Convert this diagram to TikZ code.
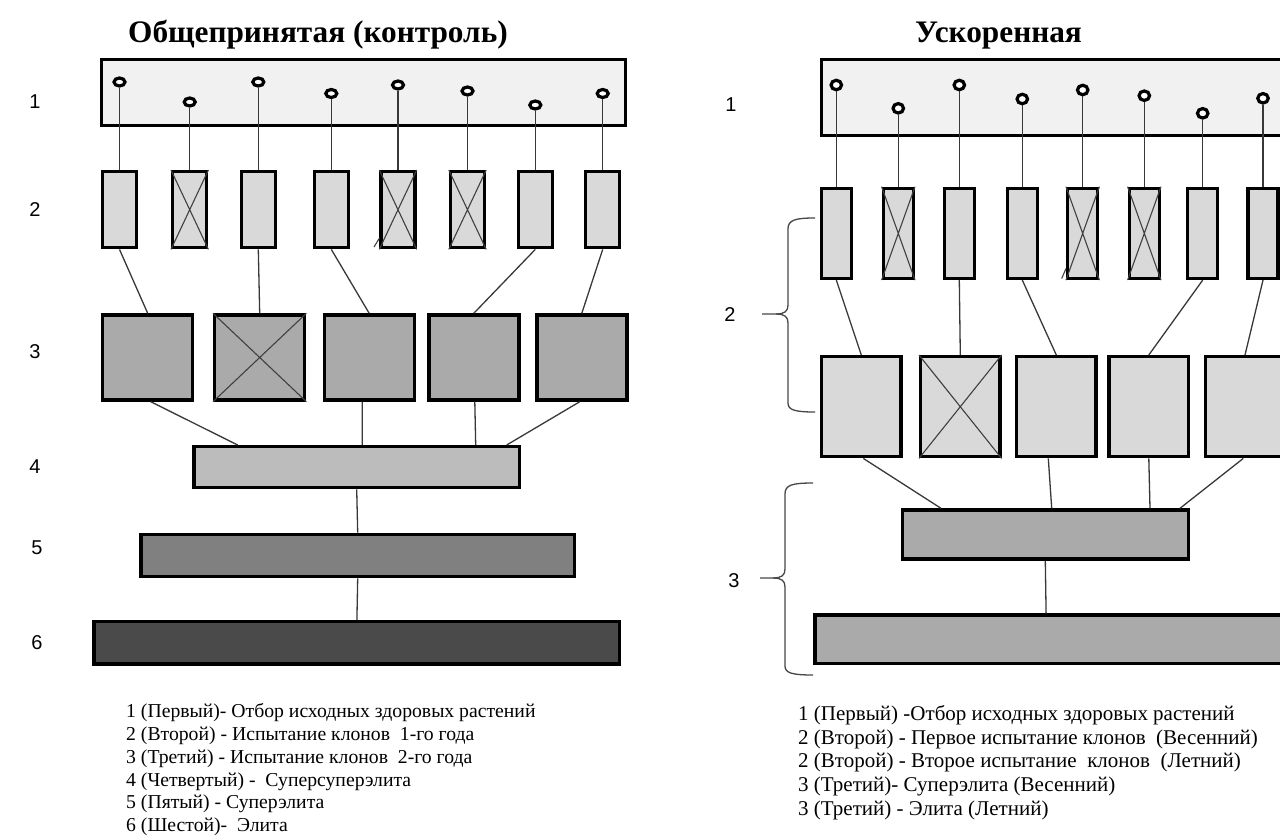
\documentclass[tikz,border=0pt]{standalone}
\usepackage{fontspec}
\setmainfont{Liberation Serif}
\newfontfamily\labelfont{Liberation Sans}
\usetikzlibrary{shapes.geometric}
\definecolor{topfill}{HTML}{F1F1F1}
\definecolor{lightfill}{HTML}{D9D9D9}
\definecolor{midfill}{HTML}{AAAAAA}
\definecolor{barfourL}{HTML}{BCBCBC}
\definecolor{barfiveL}{HTML}{808080}
\definecolor{barsixL}{HTML}{4A4A4A}
\begin{document}
\begin{tikzpicture}[x=1pt,y=-1pt,
  bx/.style={draw=black, line width=3.4pt, inner sep=0pt, rectangle},
  conn/.style={draw=black!78, line width=1.3pt},
  xline/.style={draw=black!75, line width=1.1pt},
  seed/.style={draw=black, line width=3.2pt, fill=white, ellipse, inner sep=0pt, minimum width=11pt, minimum height=8pt},
  seedR/.style={seed, minimum width=10.5pt, minimum height=9.5pt},
  brace/.style={draw=black!72, line width=1.3pt},
  lab/.style={font=\labelfont\fontsize{20}{24}\selectfont, anchor=center, inner sep=0pt},
  ttl/.style={font=\bfseries\fontsize{31.3}{36}\selectfont, anchor=base west, inner sep=0pt},
  legL/.style={font=\fontsize{19.7}{22}\selectfont, anchor=base west, inner sep=0pt},
  legR/.style={font=\fontsize{21}{23}\selectfont, anchor=base west, inner sep=0pt}
]
\useasboundingbox (0,0) rectangle (1280,836);
\clip (0,0) rectangle (1280,836);

% ---------- titles ----------
\node[ttl] (tL) at (128,42) {Общепринятая (контроль)};
\node[ttl] (tR) at (915,42) {Ускоренная};

% ---------- left panel ----------
\node[bx, fill=topfill, minimum width=524pt, minimum height=66pt] (Ltop) at (363.5,92.5) {};
\foreach \i/\x/\cy in {1/119.5/82, 2/189.7/102, 3/258.3/82, 4/331.3/93.5, 5/398/85, 6/467.5/91, 7/535.3/105, 8/602.7/93.5} {
  \node[bx, fill=lightfill, minimum width=34pt, minimum height=76pt] (Lb\i) at (\x,209.7) {};
  \node[seed] (Lc\i) at (\x,\cy) {};
  \draw[conn] (Lc\i.south) -- (Lb\i.north);
}
\foreach \n in {Lb2,Lb5,Lb6} {
  \draw[xline] (\n.north west) -- (\n.south east) (\n.north east) -- (\n.south west);
}
\coordinate (Lstray) at (374,247);
\draw[xline] (Lstray) -- (379.5,238);

\foreach \i/\x in {1/147.7, 2/259.7, 3/369.2, 4/473.8, 5/581.8} {
  \node[bx, fill=midfill, minimum width=90pt, minimum height=85pt] (Ls\i) at (\x,357.5) {};
}
\draw[xline] (Ls2.north west) -- (Ls2.south east) (Ls2.north east) -- (Ls2.south west);
\draw[conn] (Lb1.south) -- (Ls1.north);
\draw[conn] (Lb3.south) -- (Ls2.north);
\draw[conn] (Lb4.south) -- (Ls3.north);
\draw[conn] (Lb7.south) -- (Ls4.north);
\draw[conn] (Lb8.south) -- (Ls5.north);

\node[bx, fill=barfourL, minimum width=325.3pt, minimum height=41pt] (Lr4) at (356.7,467.2) {};
\node[bx, fill=barfiveL, minimum width=433.3pt, minimum height=42.2pt] (Lr5) at (357.7,555.5) {};
\node[bx, fill=barsixL, minimum width=525.7pt, minimum height=42.3pt] (Lr6) at (356.9,642.9) {};
\draw[conn] ([xshift=3pt]Ls1.south) -- ([xshift=-119pt]Lr4.north);
\draw[conn] ([xshift=-7pt]Ls3.south) -- ([xshift=5.6pt]Lr4.north);
\draw[conn] ([xshift=1pt]Ls4.south) -- ([xshift=119pt]Lr4.north);
\draw[conn] ([xshift=-2pt]Ls5.south) -- ([xshift=150pt]Lr4.north);
\draw[conn] (Lr4.south) -- (Lr5.north);
\draw[conn] (Lr5.south) -- (Lr6.north);

% left row labels
\node[lab] (l1) at (35,102) {1};
\node[lab] (l2) at (35,210) {2};
\node[lab] (l3) at (35,352) {3};
\node[lab] (l4) at (35,467) {4};
\node[lab] (l5) at (37,548) {5};
\node[lab] (l6) at (37,643) {6};

% ---------- right panel ----------
\node[bx, fill=topfill, minimum width=467pt, minimum height=76pt] (Rtop) at (1055,97.5) {};
\foreach \i/\x/\cy in {1/836.3/85, 2/898.3/108.3, 3/959.3/85, 4/1022.3/99, 5/1082.7/90, 6/1144.3/95.7, 7/1202.7/113.3, 8/1263/98.3} {
  \node[bx, fill=lightfill, minimum width=30pt, minimum height=90pt] (Rb\i) at (\x,233.4) {};
  \node[seedR] (Rc\i) at (\x,\cy) {};
  \draw[conn] (Rc\i.south) -- (Rb\i.north);
}
\foreach \n in {Rb2,Rb5,Rb6} {
  \draw[xline] (\n.north west) -- (\n.south east) (\n.north east) -- (\n.south west);
}
\coordinate (Rstray) at (1061.7,278.5);
\draw[xline] (Rstray) -- (1066,268.5);

\foreach \i/\x in {1/861.3, 2/960.3, 3/1056.3, 4/1148.8, 5/1245} {
  \node[bx, fill=lightfill, minimum width=79.3pt, minimum height=100pt] (Rs\i) at (\x,406.7) {};
}
\draw[xline] (Rs2.north west) -- (Rs2.south east) (Rs2.north east) -- (Rs2.south west);
\draw[conn] (Rb1.south) -- (Rs1.north);
\draw[conn] (Rb3.south) -- (Rs2.north);
\draw[conn] (Rb4.south) -- (Rs3.north);
\draw[conn] (Rb7.south) -- (Rs4.north);
\draw[conn] (Rb8.south) -- (Rs5.north);

\node[bx, fill=midfill, minimum width=286pt, minimum height=49pt] (Rr4) at (1045.3,534.5) {};
\node[bx, fill=midfill, minimum width=473.3pt, minimum height=48.3pt] (Rr5) at (1051.7,639.2) {};
\draw[conn] ([xshift=2pt]Rs1.south) -- ([xshift=-104.3pt]Rr4.north);
\draw[conn] ([xshift=-8pt]Rs3.south) -- ([xshift=6.4pt]Rr4.north);
\draw[conn] (Rs4.south) -- ([xshift=104.7pt]Rr4.north);
\draw[conn] ([xshift=-1.7pt]Rs5.south) -- ([xshift=134.7pt]Rr4.north);
\draw[conn] (Rr4.south) -- ([xshift=-5.6pt]Rr5.north);

% braces
\draw[brace] (815,218) .. controls (795,218) and (788,220) .. (788,229) -- (788,305)
  .. controls (788,311) and (785,314) .. (776,314) -- (762,314);
\draw[brace] (776,314) .. controls (785,314) and (788,317) .. (788,323) -- (788,403)
  .. controls (788,410) and (795,412) .. (815,412);
\draw[brace] (813,483) .. controls (792,483) and (785,485) .. (785,494) -- (785,569)
  .. controls (785,575) and (782,578) .. (773,578) -- (760,578);
\draw[brace] (773,578) .. controls (782,578) and (785,581) .. (785,587) -- (785,666)
  .. controls (785,673) and (792,675) .. (813,675);

% right row labels
\node[lab] (r1) at (731,105) {1};
\node[lab] (r2) at (730,315) {2};
\node[lab] (r3) at (734,581) {3};

% ---------- legends ----------
\node[legL] (gL1) at (126,717) {1 (Первый)- Отбор исходных здоровых растений};
\node[legL] (gL2) at (126,740) {2 (Второй) - Испытание клонов\ \ 1-го года};
\node[legL] (gL3) at (126,763) {3 (Третий) - Испытание клонов\ \ 2-го года};
\node[legL] (gL4) at (126,786) {4 (Четвертый) -\ \ Суперсуперэлита};
\node[legL] (gL5) at (126,808) {5 (Пятый) - Суперэлита};
\node[legL] (gL6) at (126,831) {6 (Шестой)-\ \ Элита};

\node[legR] (gR1) at (798,720) {1 (Первый) -Отбор исходных здоровых растений};
\node[legR] (gR2) at (798,744) {2 (Второй) - Первое испытание клонов\ \ (Весенний)};
\node[legR] (gR3) at (798,767) {2 (Второй) - Второе испытание\ \ клонов\ \ (Летний)};
\node[legR] (gR4) at (798,791) {3 (Третий)- Суперэлита (Весенний)};
\node[legR] (gR5) at (798,815) {3 (Третий) - Элита (Летний)};
\end{tikzpicture}
\end{document}
